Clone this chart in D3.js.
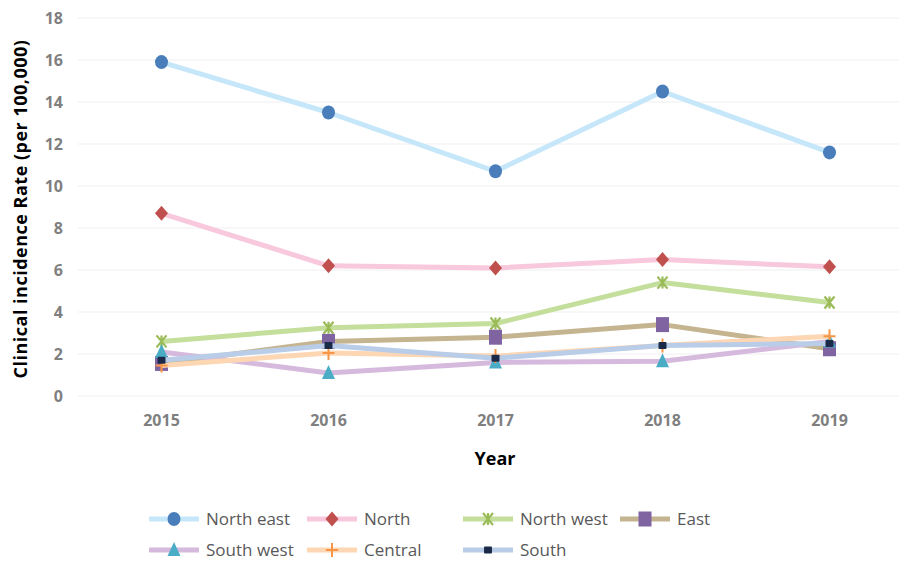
<!DOCTYPE html>
<html>
<head>
<meta charset="utf-8">
<script src="https://cdn.jsdelivr.net/npm/d3@7"></script>
<style>
  body { margin: 0; background: #fff; }
  svg text { font-family: "Open Sans", "DejaVu Sans", sans-serif; }
</style>
</head>
<body>
<div id="chart"></div>
<script>
// data
const years = ["2015", "2016", "2017", "2018", "2019"];
const yTicks = [0, 2, 4, 6, 8, 10, 12, 14, 16, 18];
const regions = ["North east", "North", "North west", "East", "South west", "Central", "South"];

const northEast = [15.9, 13.5, 10.7, 14.5, 11.6];
const north     = [8.7, 6.2, 6.1, 6.5, 6.15];
const northWest = [2.6, 3.25, 3.45, 5.4, 4.45];
const east      = [1.55, 2.6, 2.8, 3.4, 2.25];
const southWest = [2.1, 1.1, 1.6, 1.65, 2.6];
const central   = [1.45, 2.05, 1.9, 2.4, 2.85];
const south     = [1.7, 2.4, 1.8, 2.4, 2.5];

const chart = {};

chart.width = 899;
chart.height = 562;

chart.series = [
    {name: regions[0], values: northEast, line: "#c6e7fa", mark: "#4a7ebb", shape: "circle"},
    {name: regions[1], values: north,     line: "#f8c8dd", mark: "#c0504d", shape: "diamond"},
    {name: regions[2], values: northWest, line: "#c4de9c", mark: "#9bbb59", shape: "star"},
    {name: regions[3], values: east,      line: "#c4b48f", mark: "#8064a2", shape: "square"},
    {name: regions[4], values: southWest, line: "#d6bade", mark: "#4bacc6", shape: "triangle"},
    {name: regions[5], values: central,   line: "#fdd6b3", mark: "#f79646", shape: "plus"},
    {name: regions[6], values: south,     line: "#b9cde8", mark: "#1b2a48", shape: "dash"}
];

chart.drawMarker = function (g, shape, color) {
    if (shape == "circle") {
        g.append("ellipse").attr("rx", 6.5).attr("ry", 7).attr("fill", color);
    } else if (shape == "diamond") {
        g.append("path").attr("d", "M0,-7.5L6.5,0L0,7.5L-6.5,0Z").attr("fill", color);
    } else if (shape == "square") {
        g.append("rect").attr("x", -6.5).attr("y", -7.5).attr("width", 13).attr("height", 15)
            .attr("fill", color);
    } else if (shape == "triangle") {
        g.append("path").attr("d", "M0,-8L6.5,6L-6.5,6Z").attr("fill", color);
    } else if (shape == "star") {
        g.append("path").attr("d", "M-5,-6L5,6M5,-6L-5,6M0,-6L0,6")
            .attr("stroke", color).attr("stroke-width", 2.2).attr("fill", "none");
    } else if (shape == "plus") {
        g.append("path").attr("d", "M-6,0L6,0M0,-7L0,7")
            .attr("stroke", color).attr("stroke-width", 2).attr("fill", "none");
    } else if (shape == "dash") {
        g.append("rect").attr("x", -4).attr("y", -3.5).attr("width", 8).attr("height", 7)
            .attr("rx", 1).attr("fill", color);
    }
};

chart.draw = function () {
    const svg = d3.select("#chart").append("svg")
        .attr("width", chart.width)
        .attr("height", chart.height);

    const x = d3.scaleBand().domain(years).range([78, 913]);
    const y = d3.scaleLinear().domain([0, 18]).range([396, 18]);
    const xc = (d, i) => x(years[i]) + x.bandwidth() / 2;

    // gridlines
    svg.append("g")
        .selectAll("line")
        .data(yTicks)
        .join("line")
        .attr("x1", 78).attr("x2", chart.width)
        .attr("y1", d => y(d)).attr("y2", d => y(d))
        .attr("stroke", "#efefef").attr("stroke-width", 1);

    // y axis
    const yAxis = svg.append("g")
        .attr("transform", "translate(71,0)")
        .call(d3.axisLeft(y).tickValues(yTicks).tickSize(0).tickPadding(8));
    yAxis.select(".domain").remove();
    yAxis.selectAll("text")
        .attr("fill", "#7f7f7f").attr("font-size", 16).attr("font-weight", "bold");

    // x axis
    const xAxis = svg.append("g")
        .attr("transform", "translate(0,413)")
        .call(d3.axisBottom(x).tickSize(0).tickPadding(2));
    xAxis.select(".domain").remove();
    xAxis.selectAll("text")
        .attr("fill", "#7f7f7f").attr("font-size", 16).attr("font-weight", "bold");

    svg.append("text")
        .attr("x", 495).attr("y", 465)
        .attr("text-anchor", "middle")
        .attr("font-size", 18).attr("font-weight", "bold").attr("fill", "#000")
        .text("Year");

    svg.append("text")
        .attr("transform", "translate(27,209) rotate(-90)")
        .attr("text-anchor", "middle")
        .attr("font-size", 18).attr("font-weight", "bold").attr("fill", "#000")
        .attr("letter-spacing", 0.5)
        .text("Clinical incidence Rate (per 100,000)");

    const line = d3.line()
        .x(xc)
        .y(d => y(d));

    for (const s of chart.series) {
        const g = svg.append("g");
        g.append("path")
            .attr("d", line(s.values))
            .attr("fill", "none")
            .attr("stroke", s.line)
            .attr("stroke-width", 5)
            .attr("stroke-linejoin", "round");
        s.values.forEach((v, i) => {
            const m = g.append("g").attr("transform", "translate(" + xc(v, i) + "," + y(v) + ")");
            chart.drawMarker(m, s.shape, s.mark);
        });
    }

    // legend
    const legX = d3.scaleOrdinal().domain([0, 1, 2, 3]).range([149, 307, 463, 620]);
    const legY = d3.scaleOrdinal().domain([0, 1]).range([519, 550]);
    chart.series.forEach((s, i) => {
        const col = i % 4;
        const row = Math.floor(i / 4);
        const g = svg.append("g")
            .attr("transform", "translate(" + legX(col) + "," + legY(row) + ")");
        g.append("line")
            .attr("x1", 0).attr("x2", 50)
            .attr("stroke", s.line).attr("stroke-width", 5);
        const m = g.append("g").attr("transform", "translate(25,0)");
        chart.drawMarker(m, s.shape, s.mark);
        g.append("text")
            .attr("x", 57).attr("y", 6)
            .attr("font-size", 17).attr("fill", "#595959")
            .text(s.name);
    });
};

chart.draw();
</script>
</body>
</html>
